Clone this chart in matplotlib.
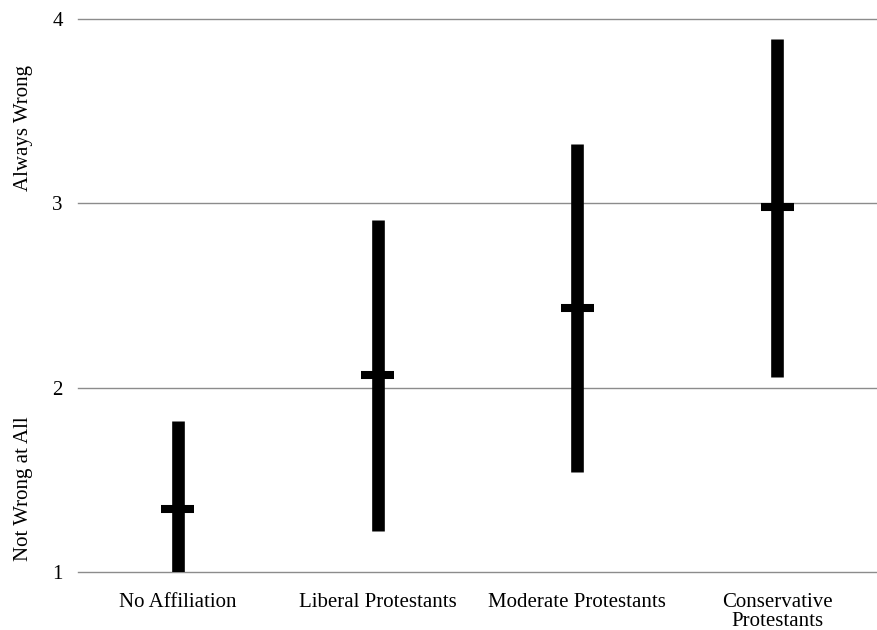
import numpy as np
import matplotlib.pyplot as plt
from matplotlib.transforms import blended_transform_factory

# ------------------------------------------------------------
# Data
# ------------------------------------------------------------
categories = ["No Affiliation", "Liberal Protestants",
              "Moderate Protestants", "Conservative\nProtestants"]
means = [1.34, 2.07, 2.43, 2.98]
upper = [1.82, 2.91, 3.32, 3.89]
lower = [0.86, 1.22, 1.54, 2.06]

yticks = [1, 2, 3, 4]

# ------------------------------------------------------------
# Figure
# ------------------------------------------------------------
plt.rcParams["font.family"] = ["Liberation Serif", "DejaVu Serif"]

fig = plt.figure(figsize=(8.77, 6.3), dpi=100)
ax = fig.add_axes([0.089, 0.092, 0.911, 0.878])

x = np.arange(len(categories))

# range bars
ax.vlines(x, lower, upper, colors="black", linewidth=9.1, zorder=3)

# mean markers
half = 0.083
ax.hlines(means, x - half, x + half, colors="black", linewidth=5.8, zorder=4)

ax.set_xlim(-0.5, len(categories) - 0.5)
ax.set_ylim(1, 4)
ax.set_yticks(yticks)
ax.set_xticks(x)
ax.set_xticklabels(categories, fontsize=15, linespacing=1.0)
ax.tick_params(axis="y", length=0, pad=11, labelsize=15)
ax.tick_params(axis="x", length=0, pad=15)

# gridlines (drawn unclipped so the y=1 line shows fully)
for yv in yticks:
    ax.axhline(yv, color="#8c8c8c", linewidth=1.0, zorder=1, clip_on=False)
for side in ["top", "right", "left", "bottom"]:
    ax.spines[side].set_visible(False)

# axis annotations
trans = blended_transform_factory(fig.transFigure, ax.transData)
ax.text(0.027, 1.45, "Not Wrong at All", transform=trans, rotation=90,
        ha="center", va="center", fontsize=15, clip_on=False)
ax.text(0.027, 3.41, "Always Wrong", transform=trans, rotation=90,
        ha="center", va="center", fontsize=15, clip_on=False)

fig.savefig("out.png", dpi=100)
